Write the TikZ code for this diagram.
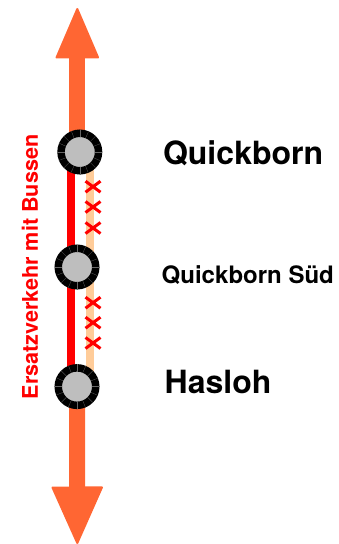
\documentclass[tikz,border=0pt]{standalone}
\usepackage{fontspec}
\setmainfont{TeX Gyre Heros}
\usetikzlibrary{arrows.meta,positioning,shapes.misc,backgrounds,calc}
\definecolor{armorange}{HTML}{FF6633}
\definecolor{closedorange}{HTML}{FFCC99}
\definecolor{stationgray}{HTML}{BEBEBE}
\tikzset{
  station/.style={circle, draw=black, fill=stationgray, line width=7.5pt, minimum size=37.5pt, inner sep=0pt},
  stationname/.style={inner sep=0pt},
  arm/.style={armorange, line width=16pt},
  busline/.style={red, line width=8pt},
  closedline/.style={closedorange, line width=8pt},
  nogo/.style={cross out, draw=red, line width=3pt, minimum width=15pt, minimum height=11pt, inner sep=0pt, outer sep=0pt}
}
\begin{document}
\begin{tikzpicture}[x=1pt,y=-1pt,node distance=115pt]
  \useasboundingbox (0,0) rectangle (338,544);

  \node[station] (quickborn) at (79.8,152) {};
  \node[station] (sued) [below of=quickborn,xshift=-2.8pt] {};
  \node[station] (hasloh) [below of=sued,yshift=-4.6pt] {};
  \coordinate (northend) at (77.3,8);
  \coordinate (southend) at (77.3,544);

  % ring segments
  \foreach \st in {quickborn,sued,hasloh}
    \foreach \a in {0,22.5,...,337.5}
      \draw[black!60,line width=0.25pt] ($(\st.center)+(\a:15pt)$) -- (\st.\a);

  \begin{scope}[on background layer]
    \draw[arm,-{Triangle[length=52pt,width=44pt,round,line width=2pt]}] ([xshift=-2.5pt]quickborn.center) -- (northend);
    \draw[arm,-{Triangle[length=59pt,width=52pt,round,line width=2pt]}] (hasloh.center) -- (southend);
    \draw[busline] ([xshift=-8.8pt]quickborn.center) -- ([xshift=-6pt]sued.center) -- ([xshift=-6pt]hasloh.center);
    \draw[closedline] ([xshift=10.2pt]quickborn.center) -- ([xshift=13pt]sued.center) -- ([xshift=13pt]hasloh.center);
  \end{scope}

  % crosses on the closed track
  \foreach \y [count=\i] in {186.7,207,228,302.7,322.7,343}
    \node[nogo] (x\i) at (93,\y) {};

  \node[stationname,font=\bfseries\fontsize{32}{38}\selectfont,right=60.5pt of quickborn,yshift=-1pt] (lblq) {Quickborn};
  \node[stationname,font=\bfseries\fontsize{24}{28}\selectfont,right=62pt of sued,yshift=-8pt] (lbls) {Quickborn Süd};
  \node[stationname,font=\bfseries\fontsize{32}{38}\selectfont,right=65pt of hasloh,yshift=5pt] (lblh) {Hasloh};
  \node[stationname,red,rotate=90,font=\bfseries\fontsize{21.6}{26}\selectfont] (notice) at (30,267) {Ersatzverkehr mit Bussen};
\end{tikzpicture}
\end{document}
